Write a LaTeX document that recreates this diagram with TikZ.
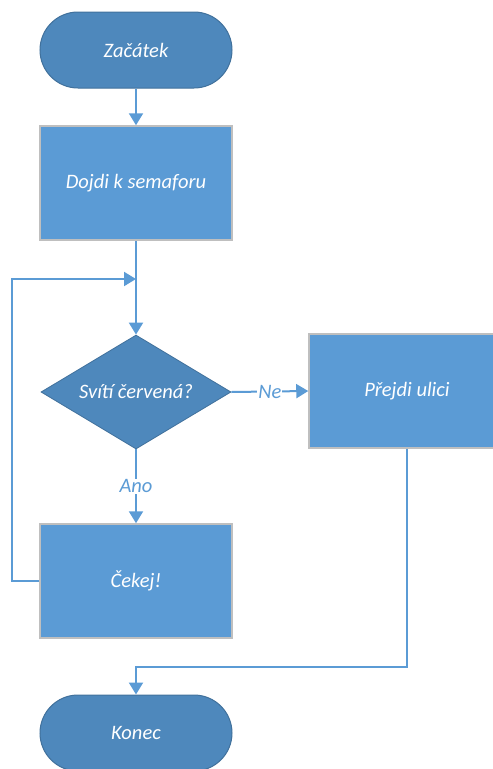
\documentclass[tikz,border=0pt]{standalone}
\usepackage{fontspec}
\setmainfont{Carlito}
\usetikzlibrary{shapes.geometric,arrows.meta}

\definecolor{termfill}{HTML}{4E88BC}
\definecolor{termedge}{HTML}{41719C}
\definecolor{boxfill}{HTML}{5B9BD5}
\definecolor{boxedge}{HTML}{BFBFBF}
\definecolor{flow}{HTML}{5B9BD5}

\tikzset{
  label font/.style={font=\itshape\fontsize{20.5}{24}\selectfont},
  terminal/.style={draw=termedge, line width=1pt, fill=termfill,
    minimum width=192pt, minimum height=76pt, rounded corners=38pt,
    text=white, label font},
  process/.style={draw=boxedge, line width=1.5pt, fill=boxfill,
    minimum width=192pt, minimum height=114pt,
    text=white, label font},
  decision/.style={diamond, aspect=1.67, draw=termedge, line width=0.8pt, fill=termfill,
    minimum width=190pt, minimum height=114pt, inner sep=0pt,
    text=white, label font},
  flowline/.style={draw=flow, line width=2pt},
  flowarrow/.style={flowline, -{Triangle[width=14pt,length=12pt]}},
  branch/.style={fill=white, text=flow, inner sep=1pt, label font}
}

\begin{document}
\begin{tikzpicture}[x=1pt, y=-1pt]
  \useasboundingbox (0,0) rectangle (493,769);
  \clip (0,0) rectangle (493,769);

  % shapes
  \node[terminal] (start) at (136,50) {Začátek};
  \node[process]  (walk)  at (136,183) {Dojdi k semaforu};
  \node[decision] (red)   at (136,392) {Svítí červená?};
  \node[process, minimum width=196pt] (cross) at (407,391) {Přejdi ulici};
  \node[process]  (wait)  at (136,581) {Čekej!};
  \node[terminal] (stop)  at (136,733) {Konec};

  % helper points on the connectors
  \coordinate (merge) at (136,279);
  \coordinate (loopL) at (12,581);
  \coordinate (loopT) at (12,279);
  \coordinate (bend)  at (407,667);

  % connectors
  \draw[flowarrow] (start.south) -- (walk.north);
  \draw[flowarrow] (walk.south) -- (red.north);
  \draw[flowarrow] (wait.west) -- (loopL) -- (loopT) -- (merge);
  \draw[flowarrow] (red.east) -- node[branch] {Ne} (cross.west);
  \draw[flowarrow] (red.south) -- node[branch] {Ano} (wait.north);
  \draw[flowarrow] (cross.south) -- (bend) -| (stop.north);
\end{tikzpicture}
\end{document}
